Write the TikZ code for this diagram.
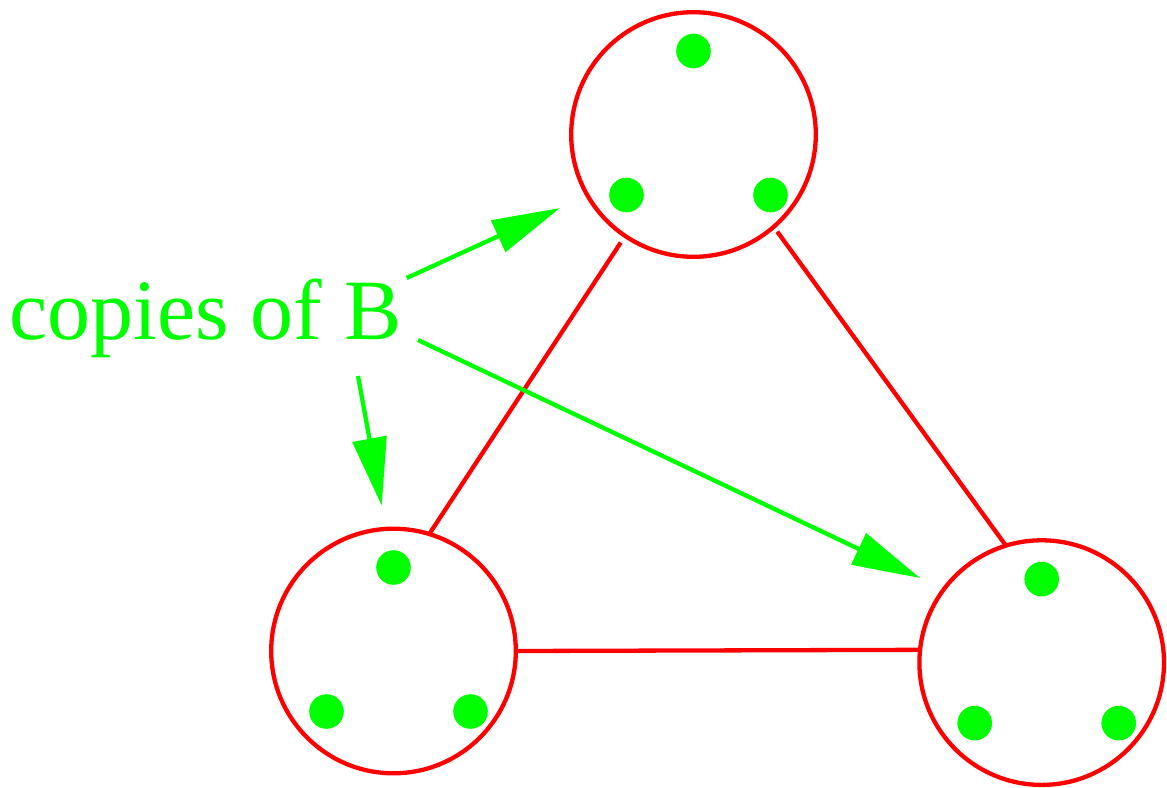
\documentclass[tikz,border=0pt]{standalone}
\usepackage{fontspec}
\setmainfont{Liberation Serif}
\usetikzlibrary{arrows.meta,calc}
\definecolor{pured}{RGB}{255,0,0}
\definecolor{pugreen}{RGB}{0,255,0}
\begin{document}
\begin{tikzpicture}[x=1pt,y=-1pt,
  vertex/.style={circle,draw=pured,line width=4.3pt,minimum size=244.6pt,inner sep=0pt,outer sep=0pt},
  edge/.style={draw=pured,line width=4.3pt},
  token/.style={fill=pugreen},
  pointer/.style={draw=pugreen,line width=4.3pt,-{Triangle[length=68pt,width=34pt]}},
  caption/.style={text=pugreen,font=\fontsize{86}{100}\selectfont,anchor=base west,inner sep=0pt},
]
\useasboundingbox (0,0) rectangle (1167,787);

% the three groups
\node[vertex] (top)   at (693.5,134.5) {};
\node[vertex] (left)  at (393.5,651)   {};
\node[vertex] (right) at (1041.7,662.6) {};

% three tokens inside every group
\foreach \v in {top,left,right}{
  \fill[token] ($(\v)+(0,-83.5)$) circle (17.3pt);
  \fill[token] ($(\v)+(-67,60.5)$) circle (17.3pt);
  \fill[token] ($(\v)+(77,60.5)$)  circle (17.3pt);
}

% links between the groups
\draw[edge,shorten <=8pt] (top.236.3) -- (left.73.3);
\draw[edge,shorten <=6pt] (top.311.3) -- (right.107.1);
\draw[edge] (left.0) -- (right.174.6);

% caption and its pointers
\node[caption] (lbl) at (9.5,339) {copies of B};

\coordinate (srcT) at (406.7,278);
\coordinate (srcR) at (418,340);
\coordinate (srcL) at (358,376);
\coordinate (tipT) at (560,208);
\coordinate (tipR) at (920,578);
\coordinate (tipL) at (381.7,505.7);

\draw[pointer] (srcT) -- (tipT);
\draw[pointer] (srcR) -- (tipR);
\draw[pointer] (srcL) -- (tipL);
\end{tikzpicture}
\end{document}
